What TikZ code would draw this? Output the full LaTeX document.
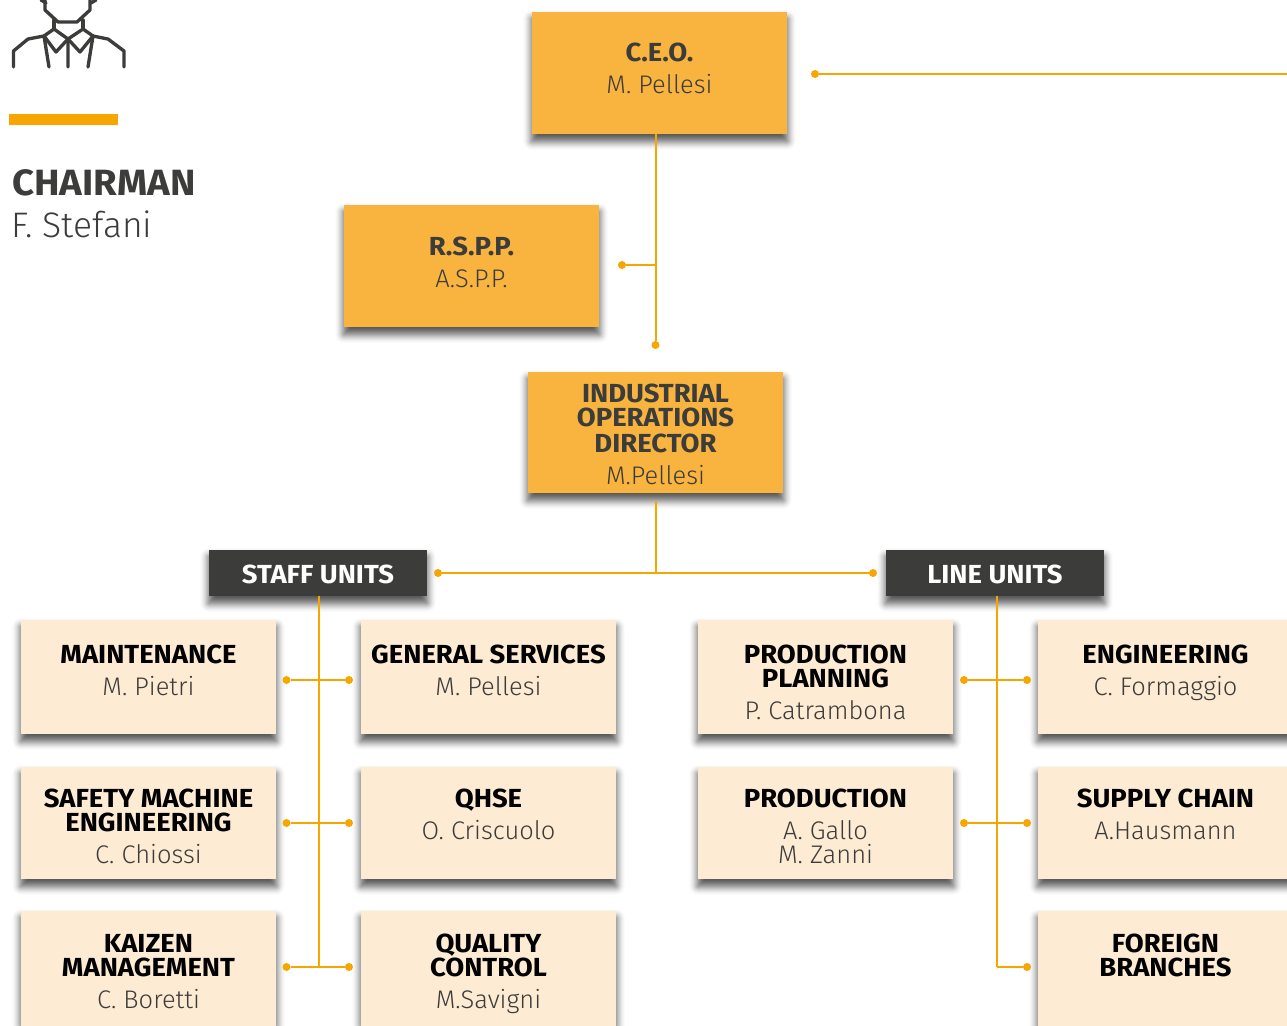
\documentclass[tikz,border=0pt]{standalone}
\usepackage{fontspec}
\setmainfont{Fira Sans Bold}[FakeStretch=1.05]
\newfontfamily\lightfam{Fira Sans Light}
\definecolor{boxorange}{HTML}{F9B440}
\definecolor{boxpale}{HTML}{FDEBD3}
\definecolor{inkdark}{HTML}{3C3C3B}
\definecolor{wire}{HTML}{F7A600}
\newdimen\pxu \pxu=.75pt
\newcommand\tf{\fontsize{19.6}{18}\selectfont}
\newcommand\nf{\fontsize{19.1}{18}\selectfont\lightfam}
% name, x0, y0, x1, y1, style, T, content
\newcommand\bx[8]{%
  \pgfmathsetmacro\bxw{#4-#2}\pgfmathsetmacro\bxh{#5-#3}%
  \foreach \rr in {9,8,...,-6}{
    \pgfmathsetmacro\layeralpha{min(.012+.008*(9-\rr),.08)}
    \fill[softshade,opacity=\layeralpha,rounded corners={max(\rr,1)*.75pt}] ({#2-\rr},{#3+7-\rr}) rectangle ({#4+\rr},{#5+7+\rr});
  }
  \node[#6,minimum width=\bxw*.75pt,minimum height=\bxh*.75pt] (#1) at ({(#2+#4)/2},{(#3+#5)/2})
   {\parbox[c][\bxh\pxu][t]{\bxw\pxu}{\centering\lineskiplimit=-\maxdimen\tf\rule{0pt}{#7\pxu}#8}};}
\tikzset{
 softshade/.style={black},
 card/.style={inner sep=0pt,outer sep=0pt,rectangle},
 orangecard/.style={card,fill=boxorange,text=inkdark},
 palecard/.style={card,fill=boxpale,text=black},
 darkcard/.style={card,fill=inkdark,text=white},
 wireline/.style={draw=wire,line width=1.5pt},
 dot/.style={circle,fill=wire,inner sep=0pt,minimum size=6pt},
 iconline/.style={draw=inkdark,line width=2.5pt,line cap=round,line join=round},
 bigtext/.style={anchor=base west,inner sep=0pt,text=inkdark}
}
\newcommand\sub[1]{{\color{inkdark}\nf #1}}
\begin{document}
\begin{tikzpicture}[x=.75pt,y=-.75pt]
\path[use as bounding box,fill=white] (0,0) rectangle (1287,1025);
\begin{scope}
\clip (0,0) rectangle (1287,1025);
% icon
\draw[iconline] (13.5,67) -- (13.5,51) -- (28,39) -- (44,36) -- (54,29) -- (68,39) -- (83,29) -- (93,36) -- (108,39) -- (124,51) -- (124,67);
\draw[iconline] (44,36) -- (56,52) -- (68,39) -- (80,52) -- (93,36);
\draw[iconline] (54,29) -- (54,20) (83,29) -- (83,20);
\draw[iconline] (45,-2) -- (45,10) -- (58,22) -- (77,22) -- (90,10) -- (90,-2);
\draw[iconline] (41,0) -- (46,3) (96,0) -- (91,3);
\draw[iconline] (68,39) -- (68,67) (44,36) -- (49,67) (93,36) -- (88,67);
% chairman
\fill[wire] (9,114) rectangle (117.5,125);
\node[bigtext,font=\fontsize{27.4}{25}\selectfont] (chair) at (12,195) {CHAIRMAN};
\node[bigtext,font=\fontsize{26.6}{25}\selectfont\lightfam] (chairname) at (11,237) {F. Stefani};
% boxes
\bx{ceo}{532}{12}{787}{134}{orangecard}{49}{C.E.O.\\[8\pxu]\sub{M. Pellesi}}
\bx{rspp}{344}{205}{599}{327}{orangecard}{50}{R.S.P.P.\\[8\pxu]\sub{A.S.P.P.}}
\bx{iod}{528}{372}{783}{493}{orangecard}{30}{INDUSTRIAL\\OPERATIONS\\[2\pxu]DIRECTOR\\[8\pxu]\sub{M.Pellesi}}
\bx{staff}{209}{550}{427}{596}{darkcard}{33}{STAFF UNITS}
\bx{lineu}{886}{550}{1104}{596}{darkcard}{33}{LINE UNITS}
\bx{maint}{21}{620}{276}{734}{palecard}{43}{MAINTENANCE\\[8\pxu]\sub{M. Pietri}}
\bx{gen}{361}{620}{616}{734}{palecard}{43}{GENERAL SERVICES\\[8\pxu]\sub{M. Pellesi}}
\bx{plan}{698}{620}{953}{734}{palecard}{43}{PRODUCTION\\PLANNING\\[8\pxu]\sub{P. Catrambona}}
\bx{eng}{1038}{620}{1293}{734}{palecard}{43}{ENGINEERING\\[8\pxu]\sub{C. Formaggio}}
\bx{safety}{21}{767}{276}{879}{palecard}{40}{SAFETY MACHINE\\ENGINEERING\\[8\pxu]\sub{C. Chiossi}}
\bx{qhse}{361}{767}{616}{879}{palecard}{40}{QHSE\\[8\pxu]\sub{O. Criscuolo}}
\bx{prod}{698}{767}{953}{879}{palecard}{40}{PRODUCTION\\[8\pxu]\sub{A. Gallo}\\\sub{M. Zanni}}
\bx{supply}{1038}{767}{1293}{879}{palecard}{40}{SUPPLY CHAIN\\[8\pxu]\sub{A.Hausmann}}
\bx{kaizen}{21}{911}{276}{1040}{palecard}{41}{KAIZEN\\MANAGEMENT\\[8\pxu]\sub{C. Boretti}}
\bx{qual}{361}{911}{616}{1040}{palecard}{41}{QUALITY\\CONTROL\\[8\pxu]\sub{M.Savigni}}
\bx{foreign}{1038}{911}{1293}{1040}{palecard}{41}{FOREIGN\\BRANCHES}
% dots and junctions
\node[dot] (dceo) at (815,74) {};
\coordinate (ceoend) at (1287,74);
\node[dot] (drspp) at (622,265) {};
\coordinate (jrspp) at (655.5,265);
\node[dot] (diod) at (655.5,345) {};
\coordinate (iodout) at (655.5,501);
\coordinate (jmid) at (655.5,573);
\node[dot] (dstaff) at (438,573) {};
\node[dot] (dline) at (873,573) {};
\foreach \nm/\yy in {a/680,b/823,c/967}{
  \node[dot] (sl\nm) at (286.5,\yy) {};
  \node[dot] (sr\nm) at (349,\yy) {};
  \node[dot] (lr\nm) at (1027,\yy) {};
}
\node[dot] (lla) at (964,680) {};
\node[dot] (llb) at (964,823) {};
\coordinate (sbot) at (319,967);
\coordinate (lbot) at (996.5,967);
\coordinate (stop) at (319,596);
\coordinate (ltop) at (996.5,596);
% connectors
\draw[wireline] (dceo) -- (ceoend);
\draw[wireline] (ceo.south -| diod) -- (diod);
\draw[wireline] (drspp) -- (jrspp);
\draw[wireline] (iodout) -- (jmid);
\draw[wireline] (dstaff) -- (dline);
\draw[wireline] (stop) -- (sbot);
\draw[wireline] (ltop) -- (lbot);
\draw[wireline] (sla) -- (sra);
\draw[wireline] (slb) -- (srb);
\draw[wireline] (slc) -- (src);
\draw[wireline] (lla) -- (lra);
\draw[wireline] (llb) -- (lrb);
\draw[wireline] (lbot) -- (lrc);
\end{scope}
\end{tikzpicture}
\end{document}
